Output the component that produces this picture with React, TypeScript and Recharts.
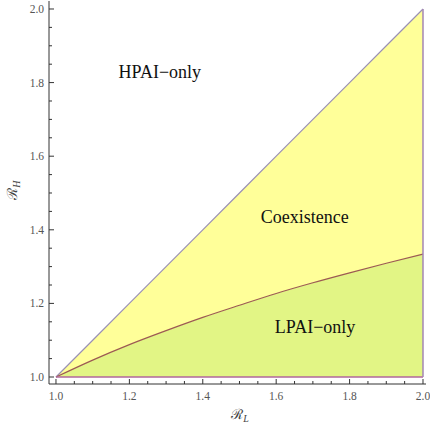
import React from 'react';
import {
  ComposedChart,
  Area,
  Line,
  XAxis,
  YAxis,
  ReferenceLine,
  ReferenceDot,
} from 'recharts';

// R_L grid and the read-off boundaries
const rL = [1.0, 1.1, 1.2, 1.3, 1.4, 1.5, 1.6, 1.7, 1.8, 1.9, 2.0];
const hpaiBoundary = [1.0, 1.1, 1.2, 1.3, 1.4, 1.5, 1.6, 1.7, 1.8, 1.9, 2.0];
const lpaiBoundary = [1.0, 1.046, 1.088, 1.126, 1.162, 1.195, 1.227, 1.256, 1.283, 1.309, 1.334];
const floorRH = [1, 1, 1, 1, 1, 1, 1, 1, 1, 1, 1];

const tickValues = [
  1.0, 1.05, 1.1, 1.15, 1.2, 1.25, 1.3, 1.35, 1.4, 1.45, 1.5,
  1.55, 1.6, 1.65, 1.7, 1.75, 1.8, 1.85, 1.9, 1.95, 2.0,
];
const majorLabels = ['1.0', '1.2', '1.4', '1.6', '1.8', '2.0'];

const regionLabels = [
  { name: 'HPAI\u2212only', x: 1.283, y: 1.829 },
  { name: 'Coexistence', x: 1.678, y: 1.435 },
  { name: 'LPAI\u2212only', x: 1.706, y: 1.136 },
];

const data = rL.map((x, i) => ({
  x,
  diag: hpaiBoundary[i],
  curve: lpaiBoundary[i],
  base: floorRH[i],
}));

const LEFT = 49;
const RIGHT = 426;
const TOP = 1;
const BOTTOM = 384;
const FONT = 'Liberation Serif';

const isMajor = (v: number) => Math.abs(v * 5 - Math.round(v * 5)) < 1e-6;
const labelFor = (v: number) => majorLabels[Math.round((v - 1) * 5)];

const BottomTick = (props: any) => {
  const { x, payload } = props;
  const v = payload.value;
  const len = isMajor(v) ? 5 : 3;
  return (
    <g>
      <line x1={x} x2={x} y1={BOTTOM} y2={BOTTOM - len} stroke="#333" />
      {isMajor(v) && (
        <text x={x} y={400} textAnchor="middle" fontSize={11.5} fill="#555" fontFamily={FONT}>
          {labelFor(v)}
        </text>
      )}
    </g>
  );
};

const TopTick = (props: any) => {
  const { x, payload } = props;
  const len = isMajor(payload.value) ? 5 : 3;
  return <line x1={x} x2={x} y1={TOP} y2={TOP + len} stroke="#333" />;
};

const LeftTick = (props: any) => {
  const { y, payload } = props;
  const v = payload.value;
  const len = isMajor(v) ? 5 : 3;
  return (
    <g>
      <line x1={LEFT} x2={LEFT + len} y1={y} y2={y} stroke="#333" />
      {isMajor(v) && (
        <text x={44} y={y + 4} textAnchor="end" fontSize={11.5} fill="#555" fontFamily={FONT}>
          {labelFor(v)}
        </text>
      )}
    </g>
  );
};

const RightTick = (props: any) => {
  const { y, payload } = props;
  const len = isMajor(payload.value) ? 5 : 3;
  return <line x1={RIGHT} x2={RIGHT - len} y1={y} y2={y} stroke="#333" />;
};

export default function App() {
  const last = rL.length - 1;
  return (
    <div
      style={{
        position: 'absolute',
        left: 0,
        top: 0,
        width: 430,
        height: 428,
        background: '#fff',
        fontFamily: '"Liberation Serif", serif',
      }}
    >
      <ComposedChart width={430} height={428} data={data} margin={{ top: TOP, right: 4, left: 0, bottom: 0 }}>
        <XAxis
          dataKey="x"
          type="number"
          domain={[0.981, 2.0082]}
          allowDataOverflow
          ticks={tickValues}
          interval={0}
          height={44}
          tickLine={false}
          axisLine={{ stroke: '#333' }}
          tick={<BottomTick />}
        />
        <XAxis
          xAxisId="top"
          dataKey="x"
          type="number"
          orientation="top"
          domain={[0.981, 2.0082]}
          allowDataOverflow
          ticks={tickValues}
          interval={0}
          height={0}
          tickLine={false}
          axisLine={{ stroke: '#333' }}
          tick={<TopTick />}
        />
        <YAxis
          type="number"
          domain={[0.981, 2.0217]}
          allowDataOverflow
          ticks={tickValues}
          interval={0}
          width={LEFT}
          tickLine={false}
          axisLine={{ stroke: '#333' }}
          tick={<LeftTick />}
        />
        <YAxis
          yAxisId="right"
          orientation="right"
          type="number"
          domain={[0.981, 2.0217]}
          allowDataOverflow
          ticks={tickValues}
          interval={0}
          width={0}
          tickLine={false}
          axisLine={{ stroke: '#333' }}
          tick={<RightTick />}
        />
        <Area
          dataKey={(d: any) => [d.curve, d.diag]}
          type="linear"
          stroke="none"
          fill="#ffff99"
          fillOpacity={1}
          isAnimationActive={false}
        />
        <Area
          dataKey={(d: any) => [d.base, d.curve]}
          type="linear"
          stroke="none"
          fill="#e2f585"
          fillOpacity={1}
          isAnimationActive={false}
        />
        <Line dataKey="diag" type="linear" stroke="#9a90b4" strokeWidth={1.2} dot={false} isAnimationActive={false} />
        <Line dataKey="curve" type="monotone" stroke="#9c5a52" strokeWidth={1.2} dot={false} isAnimationActive={false} />
        <Line dataKey="base" type="linear" stroke="#b0679c" strokeWidth={1.5} dot={false} isAnimationActive={false} />
        <ReferenceLine
          segment={[
            { x: rL[last], y: floorRH[last] },
            { x: rL[last], y: hpaiBoundary[last] },
          ]}
          stroke="#a386b4"
          strokeWidth={1.5}
        />
        {regionLabels.map((r) => (
          <ReferenceDot
            key={r.name}
            x={r.x}
            y={r.y}
            r={0}
            shape={(p: any) => (
              <text x={p.cx} y={p.cy + 6} textAnchor="middle" fontSize={18} fill="#111" fontFamily={FONT}>
                {r.name}
              </text>
            )}
          />
        ))}
      </ComposedChart>
      <svg width={430} height={428} style={{ position: 'absolute', left: 0, top: 0, pointerEvents: 'none' }}>
        <text transform="translate(17,190) rotate(-90)" textAnchor="middle" fontSize={14} fill="#444" fontFamily={FONT}>
          {'\u211B'}
          <tspan fontStyle="italic" fontSize={10} dy={3}>H</tspan>
        </text>
        <text x={240} y={419} textAnchor="middle" fontSize={14} fill="#444" fontFamily={FONT}>
          {'\u211B'}
          <tspan fontStyle="italic" fontSize={10} dy={3}>L</tspan>
        </text>
      </svg>
    </div>
  );
}
